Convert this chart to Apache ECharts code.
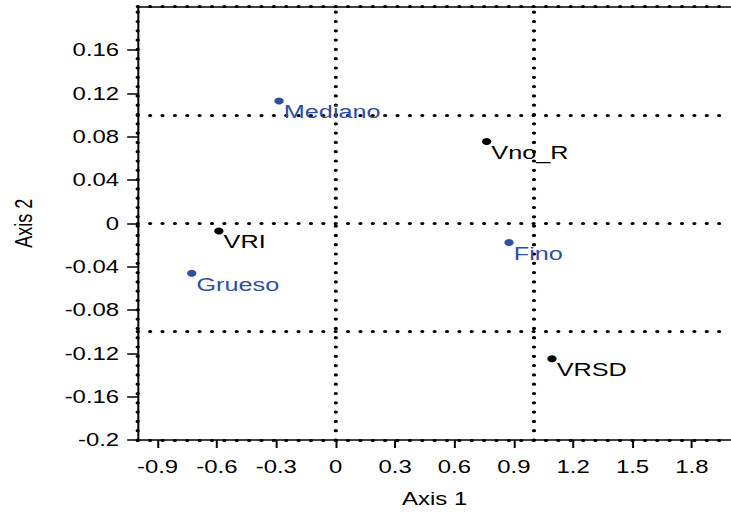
<!DOCTYPE html>
<html>
<head>
<meta charset="utf-8">
<script src="https://cdn.jsdelivr.net/npm/echarts@6/dist/echarts.min.js"></script>
<style>
html,body{margin:0;padding:0;background:#fff;overflow:hidden;width:731px;height:513px;}
#c{width:549.6px;height:513px;transform:scaleX(1.33);transform-origin:0 0;}
</style>
</head>
<body>
<div id="c"></div>
<script>
// Data
var varNames = ['VRI', 'Vno_R', 'VRSD'];
var varX = [-0.59, 0.763, 1.093];
var varY = [-0.007, 0.0755, -0.125];

var classNames = ['Mediano', 'Grueso', 'Fino'];
var classX = [-0.286, -0.727, 0.876];
var classY = [0.113, -0.046, -0.0177];

var xTicks = [-0.9, -0.6, -0.3, 0, 0.3, 0.6, 0.9, 1.2, 1.5, 1.8];
var yTicks = [-0.2, -0.16, -0.12, -0.08, -0.04, 0, 0.04, 0.08, 0.12, 0.16];

var refX = [0, 1];
var refY = [0.1, 0, -0.1];
var frameX = [-1];
var frameY = [0.2, -0.2];

var xName = 'Axis 1';
var yName = 'Axis 2';

function pts(xs, ys, names) {
  return xs.map(function (x, i) { return { name: names[i], value: [x, ys[i]] }; });
}

var dotLine = { type: [0, 9.3], width: 3.2, cap: 'round', color: '#000', opacity: 1 };
var markData = [];
refX.concat(frameX).forEach(function (v) { markData.push({ xAxis: v }); });
refY.concat(frameY).forEach(function (v) { markData.push({ yAxis: v }); });

var font = 'Liberation Sans, Arial, sans-serif';
var blue = '#2f4f9f';
var chart = echarts.init(document.getElementById('c'), null, { renderer: 'svg' });
chart.setOption({
  backgroundColor: '#fff',
  animation: false,
  grid: { left: 103.6, top: 6.7, width: 449.6, height: 437.6 },
  xAxis: [{
    type: 'value', min: -1, max: 2, position: 'bottom',
    name: xName, nameLocation: 'middle', nameGap: 50,
    nameTextStyle: { fontSize: 18, color: '#000', fontFamily: font },
    axisLine: { show: true, onZero: false, lineStyle: { color: '#000', width: 1.5 } },
    axisTick: { show: true, inside: false, length: 8, customValues: xTicks, lineStyle: { color: '#000', width: 1.5 } },
    axisLabel: { show: true, margin: 18, customValues: xTicks, fontSize: 18, color: '#000', fontFamily: font,
      formatter: function (v) { return String(+v.toFixed(2)); } },
    splitLine: { show: false }
  }, {
    type: 'value', min: -1, max: 2, position: 'top',
    axisLine: { show: true, onZero: false, lineStyle: { color: '#000', width: 1.5 } },
    axisTick: { show: false }, axisLabel: { show: false }, splitLine: { show: false }
  }],
  yAxis: {
    type: 'value', min: -0.2, max: 0.2,
    name: yName, nameLocation: 'middle', nameGap: 77, nameRotate: 90,
    nameTextStyle: { fontSize: 18, color: '#000', fontFamily: font },
    axisLine: { show: true, onZero: false, lineStyle: { color: '#000', width: 1.5 } },
    axisTick: { show: true, inside: false, length: 8, customValues: yTicks, lineStyle: { color: '#000', width: 1.5 } },
    axisLabel: { show: true, margin: 14, customValues: yTicks, fontSize: 18, color: '#000', fontFamily: font,
      formatter: function (v) { return String(+v.toFixed(2)); } },
    splitLine: { show: false }
  },
  series: [{
    type: 'scatter', name: 'vars', xAxisIndex: 0,
    data: pts(varX, varY, varNames),
    symbolSize: 7,
    itemStyle: { color: '#000', opacity: 1 },
    label: { show: true, position: 'right', distance: 0, offset: [0, 11], formatter: '{b}',
      fontSize: 19, color: '#000', fontFamily: font, opacity: 1 },
    markLine: { silent: true, symbol: 'none', label: { show: false }, lineStyle: dotLine, data: markData, animation: false },
    clip: false, z: 5
  }, {
    type: 'scatter', name: 'classes', xAxisIndex: 0,
    data: pts(classX, classY, classNames),
    symbolSize: 7,
    itemStyle: { color: blue, opacity: 1 },
    label: { show: true, position: 'right', distance: 0, offset: [0, 11], formatter: '{b}',
      fontSize: 19, color: blue, fontFamily: font, opacity: 1 },
    clip: false, z: 5
  }]
});
</script>
</body>
</html>
